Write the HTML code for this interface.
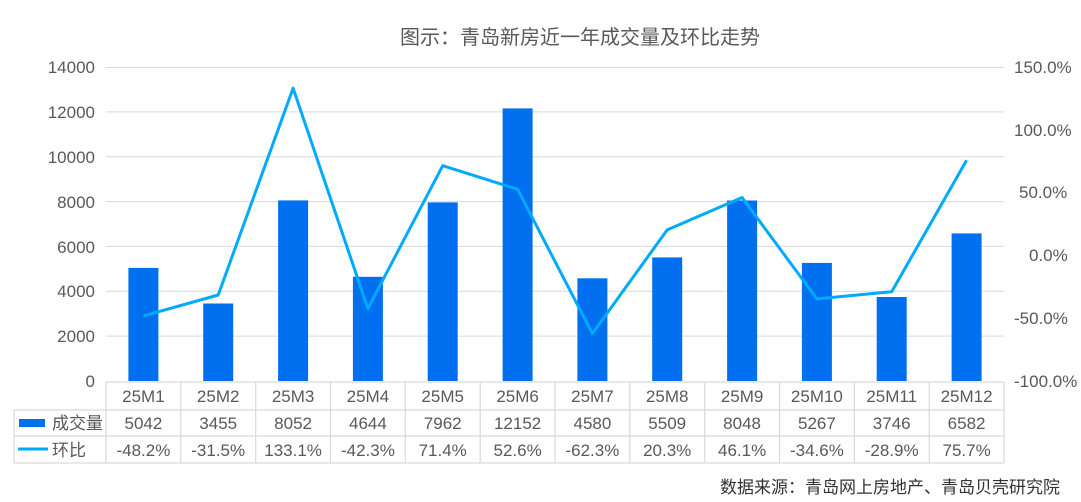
<!DOCTYPE html>
<html><head><meta charset="utf-8"><style>
body{margin:0;background:#fff;}
svg{display:block;font-family:"Liberation Sans","Noto Sans CJK SC",sans-serif;}
</style></head><body>
<svg width="1081" height="502" viewBox="0 0 1081 502">
<text x="580" y="44" font-size="20" fill="#595959" text-anchor="middle">图示：青岛新房近一年成交量及环比走势</text>
<g stroke="#d9d9d9" stroke-width="1">
<line x1="106" x2="1004" y1="67.5" y2="67.5"/>
<line x1="106" x2="1004" y1="111.9" y2="111.9"/>
<line x1="106" x2="1004" y1="156.7" y2="156.7"/>
<line x1="106" x2="1004" y1="201.6" y2="201.6"/>
<line x1="106" x2="1004" y1="246.4" y2="246.4"/>
<line x1="106" x2="1004" y1="291.3" y2="291.3"/>
<line x1="106" x2="1004" y1="336.1" y2="336.1"/>
</g>
<g font-size="17" fill="#595959" text-anchor="end">
<text x="95" y="73">14000</text><text x="95" y="118">12000</text><text x="95" y="163">10000</text>
<text x="95" y="208">8000</text><text x="95" y="253">6000</text><text x="95" y="297">4000</text>
<text x="95" y="342">2000</text><text x="95" y="387">0</text>
</g>
<g font-size="17" fill="#595959" text-anchor="start">
<text x="1014" y="73">150.0%</text><text x="1014" y="136">100.0%</text><text x="1019" y="198">50.0%</text>
<text x="1029" y="261">0.0%</text><text x="1014" y="324">-50.0%</text><text x="1014" y="387">-100.0%</text>
</g>
<g fill="#0070f0">
<rect x="128.4" y="267.9" width="30" height="113.1"/>
<rect x="203.2" y="303.5" width="30" height="77.5"/>
<rect x="278.1" y="200.4" width="30" height="180.6"/>
<rect x="352.9" y="276.8" width="30" height="104.2"/>
<rect x="427.7" y="202.4" width="30" height="178.6"/>
<rect x="502.6" y="108.4" width="30" height="272.6"/>
<rect x="577.4" y="278.3" width="30" height="102.7"/>
<rect x="652.2" y="257.4" width="30" height="123.6"/>
<rect x="727.1" y="200.5" width="30" height="180.5"/>
<rect x="801.9" y="262.9" width="30" height="118.1"/>
<rect x="876.7" y="297" width="30" height="84"/>
<rect x="951.6" y="233.4" width="30" height="147.6"/>
</g>
<polyline fill="none" stroke="#00aaff" stroke-width="3" stroke-linejoin="round" points="143.4,315.9 218.2,295 293.1,88.2 367.9,308.5 442.7,165.7 517.6,189.3 592.4,333.6 667.2,229.9 742.1,197.5 816.9,298.9 891.7,291.7 966.6,160.3"/>
<g stroke="#d9d9d9" stroke-width="1.2" fill="none">
<line x1="106" x2="1004" y1="382" y2="382"/>
<line x1="14" x2="1004" y1="410" y2="410"/>
<line x1="14" x2="1004" y1="436" y2="436"/>
<line x1="14" x2="1004" y1="463" y2="463"/>
<line x1="14" x2="14" y1="410" y2="463"/>
<line x1="106" x2="106" y1="382" y2="463"/>
<line x1="180.8" x2="180.8" y1="382" y2="463"/>
<line x1="255.7" x2="255.7" y1="382" y2="463"/>
<line x1="330.5" x2="330.5" y1="382" y2="463"/>
<line x1="405.3" x2="405.3" y1="382" y2="463"/>
<line x1="480.2" x2="480.2" y1="382" y2="463"/>
<line x1="555" x2="555" y1="382" y2="463"/>
<line x1="629.8" x2="629.8" y1="382" y2="463"/>
<line x1="704.7" x2="704.7" y1="382" y2="463"/>
<line x1="779.5" x2="779.5" y1="382" y2="463"/>
<line x1="854.3" x2="854.3" y1="382" y2="463"/>
<line x1="929.2" x2="929.2" y1="382" y2="463"/>
<line x1="1004" x2="1004" y1="382" y2="463"/>
</g>
<rect x="19" y="419" width="26" height="8" fill="#0070f0"/>
<line x1="18" x2="48" y1="449" y2="449" stroke="#00aaff" stroke-width="3"/>
<g font-size="17" fill="#595959">
<text x="52" y="429">成交量</text><text x="52" y="456">环比</text>
</g>
<g font-size="17" fill="#595959" text-anchor="middle">
<text x="143.4" y="402">25M1</text><text x="218.2" y="402">25M2</text><text x="293.1" y="402">25M3</text><text x="367.9" y="402">25M4</text><text x="442.7" y="402">25M5</text><text x="517.6" y="402">25M6</text><text x="592.4" y="402">25M7</text><text x="667.2" y="402">25M8</text><text x="742.1" y="402">25M9</text><text x="816.9" y="402">25M10</text><text x="891.7" y="402">25M11</text><text x="966.6" y="402">25M12</text>
<text x="143.4" y="429">5042</text><text x="218.2" y="429">3455</text><text x="293.1" y="429">8052</text><text x="367.9" y="429">4644</text><text x="442.7" y="429">7962</text><text x="517.6" y="429">12152</text><text x="592.4" y="429">4580</text><text x="667.2" y="429">5509</text><text x="742.1" y="429">8048</text><text x="816.9" y="429">5267</text><text x="891.7" y="429">3746</text><text x="966.6" y="429">6582</text>
<text x="143.4" y="456">-48.2%</text><text x="218.2" y="456">-31.5%</text><text x="293.1" y="456">133.1%</text><text x="367.9" y="456">-42.3%</text><text x="442.7" y="456">71.4%</text><text x="517.6" y="456">52.6%</text><text x="592.4" y="456">-62.3%</text><text x="667.2" y="456">20.3%</text><text x="742.1" y="456">46.1%</text><text x="816.9" y="456">-34.6%</text><text x="891.7" y="456">-28.9%</text><text x="966.6" y="456">75.7%</text>
</g>
<text x="1060" y="493" font-size="17" fill="#333" text-anchor="end">数据来源：青岛网上房地产、青岛贝壳研究院</text>
</svg>
</body></html>
